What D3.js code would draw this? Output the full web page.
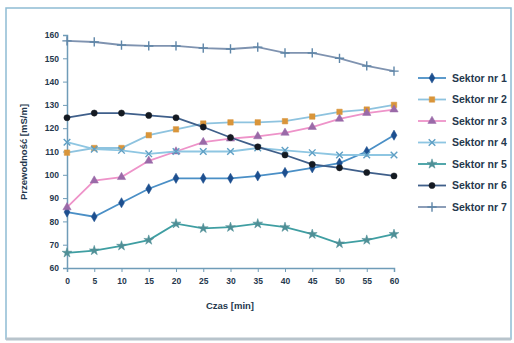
<!DOCTYPE html>
<html>
<head>
<meta charset="utf-8">
<script src="https://cdn.jsdelivr.net/npm/d3@7"></script>
<style>
  body { margin: 0; background: #fff; }
  svg { display: block; font-family: "Liberation Sans", Arial, sans-serif; }
</style>
</head>
<body>
<div id="chart"></div>
<script>
const czas = [0, 5, 10, 15, 20, 25, 30, 35, 40, 45, 50, 55, 60];
const yTicks = [60, 70, 80, 90, 100, 110, 120, 130, 140, 150, 160];
const seriesNames = ["Sektor nr 1", "Sektor nr 2", "Sektor nr 3", "Sektor nr 4", "Sektor nr 5", "Sektor nr 6", "Sektor nr 7"];

const s1 = [84, 82, 88, 94, 98.5, 98.5, 98.5, 99.5, 101, 103, 105, 110, 117];
const s2 = [109.5, 111.5, 111.5, 117, 119.5, 122, 122.5, 122.5, 123, 125, 127, 128, 130];
const s3 = [86, 97.5, 99, 106, 110, 114, 115.5, 116.5, 118, 120.5, 124, 126.5, 128];
const s4 = [114, 111, 110.5, 109, 110, 110, 110, 111.5, 110.5, 109.5, 108.5, 108.5, 108.5];
const s5 = [66.5, 67.5, 69.5, 72, 79, 77, 77.5, 79, 77.5, 74.5, 70.5, 72, 74.5];
const s6 = [124.5, 126.5, 126.5, 125.5, 124.5, 120.5, 116, 112, 108.5, 104.5, 103, 101, 99.5];
const s7 = [157.5, 157, 155.7, 155.3, 155.3, 154.4, 154, 154.8, 152.3, 152.3, 150, 146.7, 144.5];

const width = 514, height = 343;

// line colour, marker colour, marker shape per series
const styles = [
  { line: "#4a8fc6", mark: "#1d4f8f", sym: d3.symbolDiamond, fill: true },
  { line: "#8ec3df", mark: "#d9953a", sym: d3.symbolSquare, fill: true },
  { line: "#ee93c9", mark: "#9a6aa8", sym: d3.symbolTriangle, fill: true },
  { line: "#8ec6e2", mark: "#5f9fc4", sym: d3.symbolTimes || d3.symbolCross, fill: false },
  { line: "#3f9ea2", mark: "#4f8f96", sym: d3.symbolStar, fill: true },
  { line: "#3f5f8a", mark: "#141a22", sym: d3.symbolCircle, fill: true },
  { line: "#7f93b0", mark: "#5f86a8", sym: d3.symbolPlus || d3.symbolCross, fill: false },
];

const data = [s1, s2, s3, s4, s5, s6, s7].map((vals, i) => ({
  name: seriesNames[i],
  style: styles[i],
  values: vals.map((v, j) => ({ t: czas[j], v: v })),
}));

const svg = d3.select("#chart").append("svg")
  .attr("width", width)
  .attr("height", height);

// outer frame
svg.append("rect")
  .attr("x", 6).attr("y", 8)
  .attr("width", 505).attr("height", 331)
  .attr("fill", "#fff")
  .attr("stroke", "#8fbcd4")
  .attr("stroke-width", 1.5);
svg.append("line")
  .attr("x1", 6).attr("x2", 511).attr("y1", 339).attr("y2", 339)
  .attr("stroke", "#b8c4cc").attr("stroke-width", 3);

const x = d3.scaleLinear([0, 60], [67, 394]);
const y = d3.scaleLinear([60, 160], [268, 35]);

const textCol = "#25384d";

// y axis
const yAxis = svg.append("g")
  .attr("transform", "translate(67,0)")
  .call(d3.axisLeft(y).tickValues(yTicks).tickSize(4).tickPadding(4));
yAxis.select(".domain").attr("stroke", "#6f9cb8").attr("stroke-width", 1.5);
yAxis.selectAll(".tick line").attr("stroke", "#6f9cb8");
yAxis.selectAll("text")
  .attr("fill", textCol)
  .attr("font-size", 8.5)
  .attr("font-weight", "bold");

// x axis
const xAxis = svg.append("g")
  .attr("transform", "translate(0,268)")
  .call(d3.axisBottom(x).tickValues(czas).tickSize(4).tickPadding(6));
xAxis.select(".domain").attr("stroke", "#6f9cb8").attr("stroke-width", 1.5);
xAxis.selectAll(".tick line").attr("stroke", "#6f9cb8");
xAxis.selectAll("text")
  .attr("fill", textCol)
  .attr("font-size", 8.5)
  .attr("font-weight", "bold");

// axis titles
svg.append("text")
  .attr("x", 230).attr("y", 309)
  .attr("text-anchor", "middle")
  .attr("font-size", 9.5)
  .attr("font-weight", "bold")
  .attr("fill", textCol)
  .text("Czas [min]");

svg.append("text")
  .attr("transform", "translate(27,152) rotate(-90)")
  .attr("text-anchor", "middle")
  .attr("font-size", 9.5)
  .attr("font-weight", "bold")
  .attr("fill", textCol)
  .text("Przewodność [mS/m]");

const line = d3.line()
  .x((d) => x(d.t))
  .y((d) => y(d.v));

const plot = svg.append("g");

const groups = plot.selectAll("g.series")
  .data(data)
  .join("g")
  .attr("class", "series");

groups.append("path")
  .attr("d", (d) => line(d.values))
  .attr("fill", "none")
  .attr("stroke", (d) => d.style.line)
  .attr("stroke-width", 1.8);

function drawMarker(sel, st, size) {
  sel.attr("d", d3.symbol().type(st.sym).size(size))
    .attr("fill", st.fill ? st.mark : "none")
    .attr("stroke", st.mark)
    .attr("stroke-width", st.fill ? 0.5 : 1.4);
}

groups.each(function (d) {
  d3.select(this).selectAll("path.mark")
    .data(d.values)
    .join("path")
    .attr("class", "mark")
    .attr("transform", (p) => `translate(${x(p.t)},${y(p.v)})`)
    .call(drawMarker, d.style, 30);
});

// legend (text runs into the right edge, as in the original)
const legend = svg.append("g")
  .selectAll("g")
  .data(data)
  .join("g")
  .attr("transform", (d, i) => `translate(418,${78 + i * 21.5})`);

legend.append("line")
  .attr("x1", 0).attr("x2", 28)
  .attr("stroke", (d) => d.style.line)
  .attr("stroke-width", 1.8);

legend.append("path")
  .attr("transform", "translate(14,0)")
  .each(function (d) {
    d3.select(this).call(drawMarker, d.style, 30);
  });

legend.append("text")
  .attr("x", 34)
  .attr("dy", "0.35em")
  .attr("font-size", 10.5)
  .attr("font-weight", "bold")
  .attr("fill", textCol)
  .text((d) => d.name);
</script>
</body>
</html>
